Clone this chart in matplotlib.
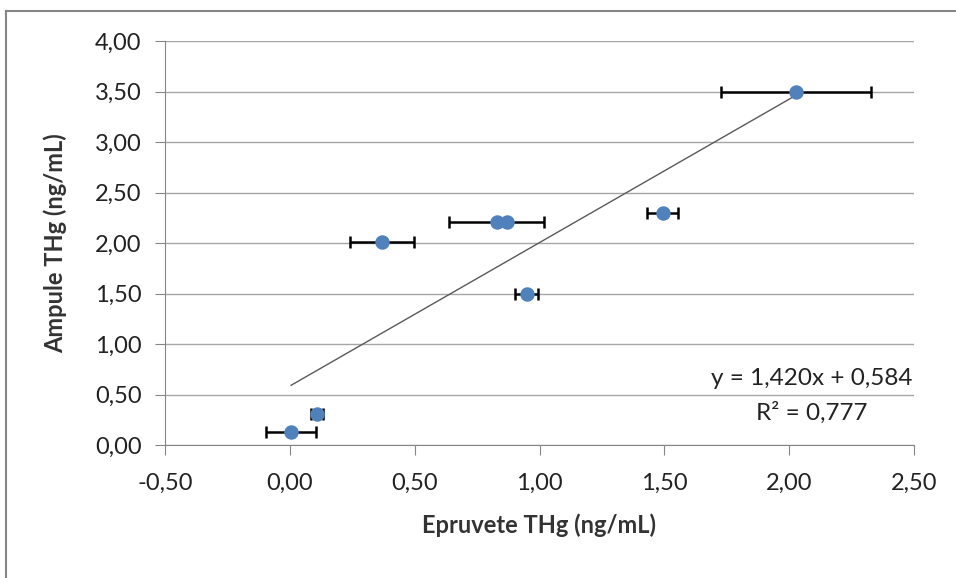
import matplotlib.pyplot as plt
import numpy as np
from matplotlib.lines import Line2D
from matplotlib.ticker import FuncFormatter

plt.rcParams['font.family'] = ['Lato', 'DejaVu Sans']

# data
epruvete = [0.005, 0.108, 0.368, 0.829, 0.869, 0.949, 1.494, 2.026]
ampule = [0.13, 0.307, 2.01, 2.21, 2.21, 1.50, 2.30, 3.50]
x_err = [0.10, 0.024, 0.128, 0.19, 0.0, 0.046, 0.062, 0.30]

# trendline from the chart
slope = 1.420
intercept = 0.584
r2 = 0.777

fig = plt.figure(figsize=(9.56, 5.78), dpi=100)
ax = fig.add_axes([165 / 956, 1 - 445 / 578, (914 - 165) / 956, (445 - 41) / 578])

# chart border (only left and top visible)
fig.add_artist(Line2D([6 / 956, 6 / 956], [0, 1 - 11 / 578], color='#868686', lw=1.5,
                      transform=fig.transFigure))
fig.add_artist(Line2D([6 / 956, 1], [1 - 11 / 578, 1 - 11 / 578], color='#868686', lw=1.5,
                      transform=fig.transFigure))

ax.errorbar(epruvete, ampule, xerr=x_err, fmt='none', ecolor='black', elinewidth=1.8,
            capsize=4.3, capthick=1.8, zorder=3)
ax.plot(epruvete, ampule, 'o', color='#4F81BD', markersize=9.4, zorder=4)

# linear trendline
xt = np.array([min(epruvete), max(epruvete)])
ax.plot(xt, slope * xt + intercept, color='#595959', lw=1, zorder=2)

eq = 'y = ' + f'{slope:.3f}'.replace('.', ',') + 'x + ' + f'{intercept:.3f}'.replace('.', ',')
r2_txt = 'R² = ' + f'{r2:.3f}'.replace('.', ',')
ax.text(2.091, 0.663, eq, ha='center', va='center', fontsize=17.5, color='#222222', zorder=5)
ax.text(2.091, 0.317, r2_txt, ha='center', va='center', fontsize=17.5, color='#222222', zorder=5)

ax.set_xlim(-0.5, 2.5)
ax.set_ylim(0, 4)
ax.set_xticks(np.arange(-0.5, 2.51, 0.5))
ax.set_yticks(np.arange(0, 4.01, 0.5))
fmt = FuncFormatter(lambda v, p: f'{v:.2f}'.replace('.', ','))
ax.xaxis.set_major_formatter(fmt)
ax.yaxis.set_major_formatter(fmt)

ax.grid(axis='y', color='#a6a6a6', lw=1)
ax.set_axisbelow(True)
for s in ['top', 'right']:
    ax.spines[s].set_visible(False)
for s in ['left', 'bottom']:
    ax.spines[s].set_color('#868686')
ax.tick_params(axis='both', colors='#868686', labelcolor='#222222', labelsize=17, length=7)
ax.tick_params(axis='y', pad=10)
ax.tick_params(axis='x', pad=13)

ax.set_xlabel('Epruvete THg (ng/mL)', fontsize=17, fontweight='bold', color='#333333', labelpad=14)
ax.set_ylabel('Ampule THg (ng/mL)', fontsize=17, fontweight='bold', color='#333333', labelpad=20)

fig.savefig('out.png', dpi=100)
